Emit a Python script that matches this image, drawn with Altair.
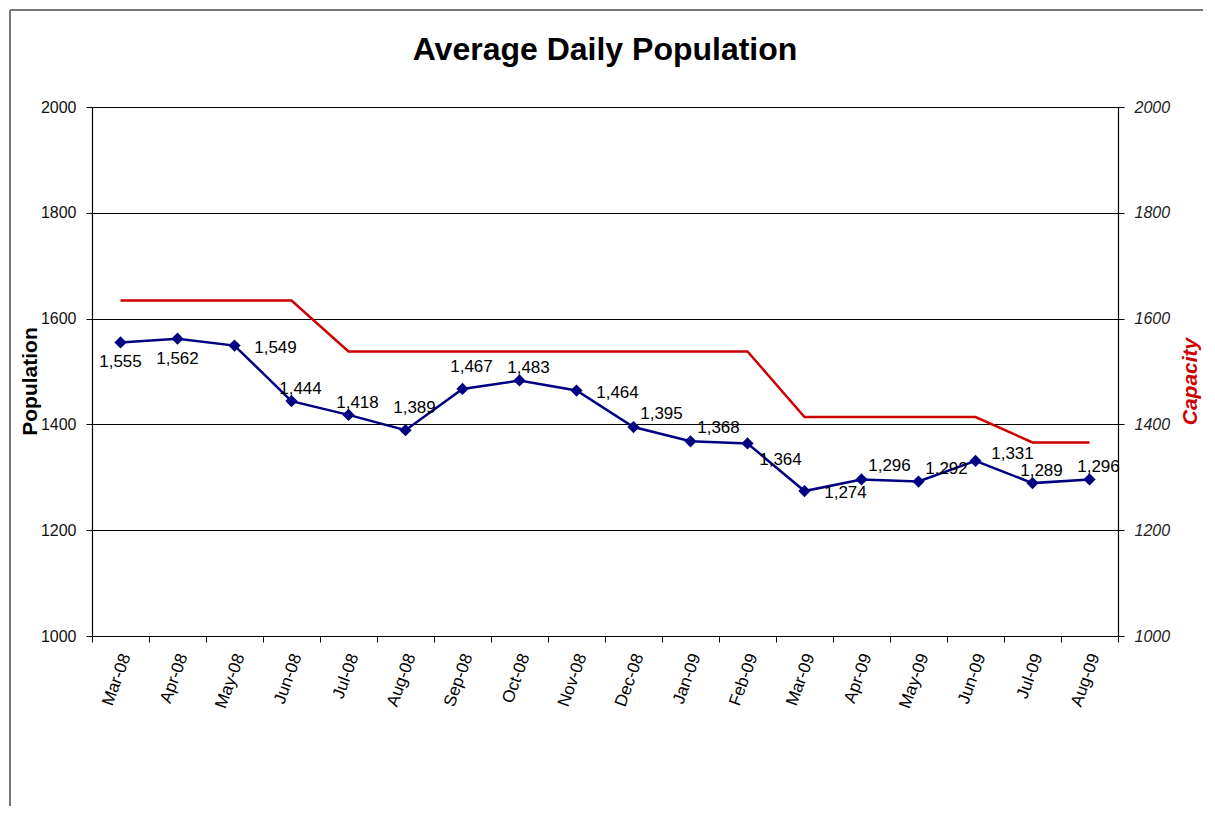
import altair as alt
import pandas as pd

months = ["Mar-08", "Apr-08", "May-08", "Jun-08", "Jul-08", "Aug-08", "Sep-08", "Oct-08", "Nov-08",
          "Dec-08", "Jan-09", "Feb-09", "Mar-09", "Apr-09", "May-09", "Jun-09", "Jul-09", "Aug-09"]
population = [1555, 1562, 1549, 1444, 1418, 1389, 1467, 1483, 1464,
              1395, 1368, 1364, 1274, 1296, 1292, 1331, 1289, 1296]
capacity = [1634, 1634, 1634, 1634, 1538, 1538, 1538, 1538, 1538,
            1538, 1538, 1538, 1414, 1414, 1414, 1414, 1366, 1366]
# where each data label sits relative to its point (as in the original)
label_side = ["below", "below", "right", "above", "above", "high", "high", "above", "right",
              "aboveright", "aboveright", "belowright", "right", "aboveright", "aboveright", "upright", "above", "above"]
chart_title = "Average Daily Population"

df = pd.DataFrame({"month": months, "population": population, "capacity": capacity, "side": label_side})

FONT = "Liberation Sans"
NAVY = "#000080"
RED = "#cc0000"
W, H = 1026, 529
TICKS = [1000, 1200, 1400, 1600, 1800, 2000]

x = alt.X("month:N", sort=months,
          scale=alt.Scale(type="band", paddingInner=0, paddingOuter=0),
          axis=alt.Axis(title=None, labelAngle=-70, labelFontSize=17, labelFont=FONT, labelColor="#000",
                        labelPadding=12, labelOffset=5, tickBand="extent", tickSize=6, tickColor="#000",
                        domainColor="#000", domainWidth=1.2, grid=False))

yscale = alt.Scale(domain=[1000, 2000], nice=False, zero=False)

base = alt.Chart(df)

cap_line = base.mark_line(color=RED, strokeWidth=2.5).encode(
    x=x,
    y=alt.Y("capacity:Q", scale=yscale,
            axis=alt.Axis(orient="right", values=TICKS, format="d", grid=False,
                          labelFontSize=16, labelFont=FONT, labelFontStyle="italic", labelColor="#222",
                          labelPadding=10, tickSize=6, tickColor="#000", domainColor="#000", domainWidth=1.2,
                          title="Capacity", titleColor=RED, titleFont=FONT, titleFontSize=21,
                          titleFontWeight="bold", titleFontStyle="italic", titleAngle=270,
                          titleX=72, titleY=274, titleAlign="center", titleBaseline="middle")),
)

pop_line = base.mark_line(color=NAVY, strokeWidth=2.5).encode(
    x=x,
    y=alt.Y("population:Q", scale=yscale,
            axis=alt.Axis(orient="left", values=TICKS, format="d", grid=True,
                          gridColor="#000", gridWidth=1, gridOpacity=1,
                          labelFontSize=16, labelFont=FONT, labelColor="#111",
                          labelPadding=10, tickSize=6, tickColor="#000", domainColor="#000", domainWidth=1.2,
                          title="Population", titleColor="#000", titleFont=FONT, titleFontSize=21,
                          titleFontWeight="bold", titleAngle=270,
                          titleX=-62, titleY=274, titleAlign="center", titleBaseline="middle")),
)

y_noaxis = alt.Y("population:Q", scale=yscale, axis=None)
pop_pts = base.mark_point(shape="diamond", filled=True, size=150, color=NAVY, opacity=1).encode(x=x, y=y_noaxis)

offsets = {"below": (0, 20), "right": (41, 2), "upright": (37, -7), "above": (9, -12), "high": (9, -22),
           "aboveright": (28, -13), "belowright": (33, 17)}
texts = []
for side, (dx, dy) in offsets.items():
    texts.append(
        base.transform_filter(alt.datum.side == side).mark_text(
            dx=dx, dy=dy, fontSize=17, font=FONT, color="#000", align="center", baseline="middle"
        ).encode(x=x, y=y_noaxis, text=alt.Text("population:Q", format=","))
    )

one = pd.DataFrame({"t": [chart_title]})
title_mark = alt.Chart(one).mark_text(font=FONT, fontSize=32, fontWeight="bold", color="#000",
                                      align="center", baseline="alphabetic").encode(
    x=alt.value(W / 2), y=alt.value(-47), text="t:N")

frame_left = alt.Chart(one).mark_rule(color="#777", strokeWidth=2).encode(
    x=alt.value(-82), y=alt.value(-97), y2=alt.value(H + 300))
frame_top = alt.Chart(one).mark_rule(color="#777", strokeWidth=2).encode(
    y=alt.value(-97), x=alt.value(-82), x2=alt.value(W + 300))

chart = alt.layer(frame_left, frame_top, title_mark, cap_line, pop_line, pop_pts, *texts).resolve_scale(
    y="independent").properties(
    width=W, height=H,
    autosize=alt.AutoSizeParams(type="none"),
    padding={"left": 84, "top": 99, "right": 85, "bottom": 170},
).configure_view(stroke=None)

chart.save("out.html", embed_options={"renderer": "svg", "actions": False})
